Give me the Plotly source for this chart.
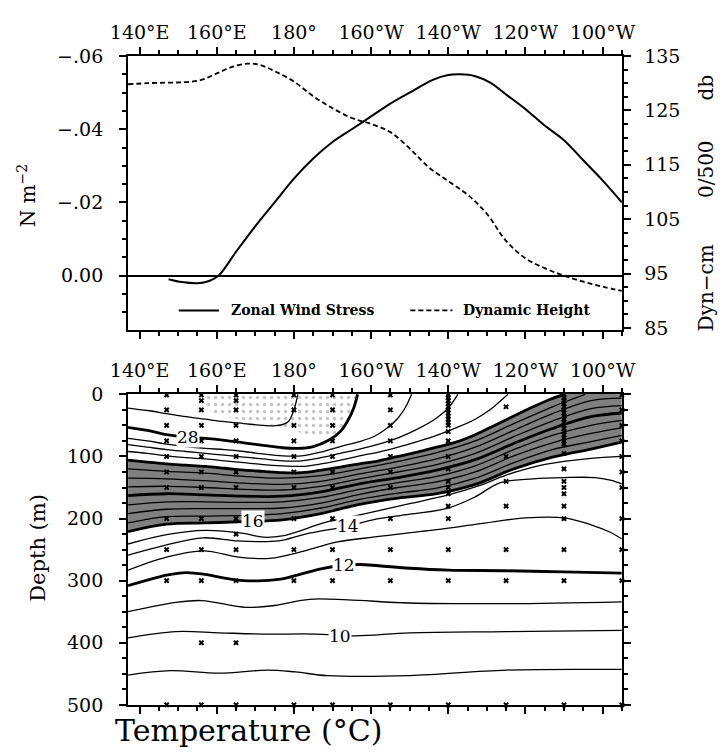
import plotly.graph_objects as go

# ---------------- top panel data ----------------
LON_TAU = [147.5, 151, 155, 158, 160.5, 165, 170, 175, 180, 185, 190, 195, 200, 205, 210,
           216, 220, 223, 227, 231, 235, 240, 245, 250, 255, 260, 265]
TAU = [0.001, 0.0018, 0.0021, 0.0015, 0.0, -0.0065, -0.0135, -0.020, -0.0265, -0.032, -0.0365,
       -0.040, -0.0435, -0.047, -0.050, -0.0535, -0.0548, -0.055, -0.0545, -0.0527, -0.0495,
       -0.0455, -0.041, -0.037, -0.0315, -0.026, -0.020]

LON_DH = [137, 142, 147, 152, 156, 160, 164, 168, 171, 175, 180, 185, 190, 195, 200, 205, 210,
          215, 220, 225, 230, 235, 240, 245, 250, 255, 260, 265]
DH = [129.8, 130.0, 130.1, 130.2, 130.6, 131.8, 133.0, 133.6, 133.4, 132.2, 130.3, 127.6, 125.4,
      123.6, 122.5, 121.0, 118.0, 114.5, 112.0, 109.5, 106.0, 101.0, 97.8, 96.0, 94.6, 93.5,
      92.6, 91.8]

LON_TICKS = [140, 160, 180, 200, 220, 240, 260]
LON_TEXT = ["140°E", "160°E", "180°", "160°W", "140°W", "120°W", "100°W"]
TAU_TICKS = [-0.06, -0.04, -0.02, 0.0]
TAU_TEXT = ["−.06", "−.04", "−.02", "0.00"]
DH_TICKS = [85, 95, 105, 115, 125, 135]
DEPTH_TICKS = [0, 100, 200, 300, 400, 500]

# ---------------- bottom panel data: isotherm depths (m) ----------------
LON_A = [137, 147, 157, 167, 177, 187, 197, 207, 217, 227, 237, 247, 257, 265]
ISO = {
    29: ([137, 142, 147, 152, 157, 162, 167, 172, 176, 178.5, 180, 181],
         [22, 26, 31, 36, 40, 44, 47, 50, 50, 44, 25, 0]),
    28: ([137, 142, 147, 152, 157, 162, 167, 172, 177, 181, 185, 189, 192, 194, 195.5, 196.5],
         [53, 58, 65, 69, 71, 74, 78, 82, 86, 87, 84, 74, 60, 42, 22, 0]),
    27: ([137, 142, 147, 152, 157, 162, 167, 172, 177, 182, 187, 192, 197, 201, 204, 207, 209, 210.5],
         [71, 75, 80, 84, 87, 89, 92, 96, 99, 99, 93, 84, 76, 67, 55, 38, 20, 0]),
    26: ([137, 142, 147, 152, 157, 162, 167, 172, 177, 182, 187, 192, 197, 202, 207, 212, 217, 220, 222.5],
         [81, 85, 89, 92, 95, 98, 101, 104, 107, 107, 102, 95, 88, 80, 70, 56, 38, 22, 0]),
    25: ([137, 142, 147, 152, 157, 162, 167, 172, 177, 182, 187, 192, 197, 202, 207, 212, 217, 222, 227,
          231, 234, 235.5],
         [92, 95, 99, 102, 104, 107, 110, 113, 115, 116, 112, 106, 99, 93, 85, 76, 66, 54, 40, 24, 8, 0]),
    24: ([137, 142, 147, 152, 157, 162, 167, 172, 177, 182, 187, 192, 197, 202, 207, 212, 217, 222, 227,
          232, 237, 242, 246, 250],
         [106, 109, 112, 114, 116, 119, 122, 124, 126, 126, 122, 117, 112, 107, 100, 93, 85, 77, 65,
          50, 35, 20, 9, 0]),
    23: ([137, 147, 157, 167, 177, 187, 197, 207, 217, 227, 237, 247, 252, 255.5],
         [120, 124, 127, 132, 135, 131, 120, 108, 94, 75, 47, 20, 8, 0]),
    22: (LON_A, [135, 136, 139, 143, 145, 140, 128, 117, 104, 85, 58, 31, 10, 6]),
    21: (LON_A, [149, 148, 150, 153, 154, 148, 136, 125, 113, 95, 68, 43, 23, 18]),
    20: (LON_A, [163, 160, 162, 164, 164, 157, 144, 134, 122, 105, 79, 55, 36, 30]),
    19: (LON_A, [178, 173, 173, 174, 173, 166, 153, 142, 132, 115, 89, 66, 50, 42]),
    18: (LON_A, [192, 185, 184, 184, 183, 175, 161, 150, 141, 125, 99, 78, 63, 54]),
    17: (LON_A, [207, 197, 196, 195, 192, 183, 169, 159, 151, 135, 110, 89, 76, 66]),
    16: (LON_A, [221, 209, 207, 205, 202, 192, 177, 167, 160, 145, 120, 101, 88, 77]),
    15: ([137, 147, 157, 167, 172, 177, 182, 187, 194, 200, 210, 220, 228, 235, 242, 250, 257, 265],
         [241, 226, 219, 224, 230, 228, 219, 208, 198, 190, 176, 162, 147, 130, 117, 108, 103, 100]),
    14: ([137, 146, 156.5, 165.5, 176, 183, 194, 200.5, 210, 220, 227, 233.5, 242, 250, 258, 262, 265],
         [259, 244, 231, 236, 236, 225, 212, 202, 193, 183, 165, 142, 136, 134, 134, 138, 144]),
    13: ([137, 147, 156.5, 165.6, 173.7, 182.8, 191, 200.5, 206, 214, 223, 233, 240, 250, 257, 262, 265],
         [283, 262, 252, 262, 264, 252, 238, 230, 226, 220, 213, 204, 199, 199, 210, 222, 233]),
    12: ([137, 142, 147, 152, 157, 162, 167, 172, 177, 182, 187, 192, 197, 202, 210, 220, 235, 250, 265],
         [308, 299, 291, 287, 290, 296, 300, 300, 297, 289, 281, 276, 274, 276, 280, 283, 284, 286, 288]),
    11: ([137, 149.4, 156, 167.6, 175, 184, 194, 210, 235, 265],
         [350, 335, 332, 343, 340, 330, 331, 336, 337, 334]),
    10: ([137, 149.4, 160.6, 172, 185.4, 196, 210, 235, 265],
         [392, 382, 384, 386, 386, 389, 384, 382, 380]),
    9: ([137, 148, 160.6, 173, 180.4, 188.7, 210, 235, 265],
        [452, 445, 449, 444, 447, 453, 453, 444, 443]),
}
THICK = [28, 24, 20, 16, 12]

# contour labels (temperature, lon, depth)
LABELS = [(28, 152.6, 69), (16, 169.3, 204), (14, 194, 212), (12, 193, 275), (10, 192, 389)]

# stippled near-surface warm-pool region
STIP_LON = [157, 160, 165, 170, 175, 180, 185, 190, 194, 196, 196, 157]
STIP_DEP = [22, 32, 40, 45, 50, 58, 70, 70, 45, 10, 0, 0]

# mooring sensor positions
MOORINGS = {
    147: [1, 25, 50, 75, 100, 125, 150, 200, 250, 300, 500],
    156: [1, 10, 25, 50, 75, 100, 125, 150, 200, 250, 300, 400, 500],
    165: [1, 10, 25, 50, 75, 100, 125, 150, 200, 225, 250, 300, 400, 500],
    180: [1, 25, 50, 75, 100, 125, 150, 200, 250, 300, 500],
    190: [1, 25, 50, 75, 100, 125, 150, 200, 250, 300, 500],
    205: [1, 25, 50, 75, 100, 125, 150, 200, 250, 300, 500],
    220: [1, 5, 10, 15, 20, 25, 30, 35, 40, 45, 50, 60, 75, 100, 120, 140, 150, 160, 180, 200,
          250, 300, 500],
    235: [20, 100, 140, 180, 250, 300, 500],
    250: [1, 5, 10, 15, 20, 25, 30, 35, 40, 45, 50, 55, 60, 65, 70, 75, 80, 95, 120, 140, 150,
          160, 180, 200, 250, 300, 500],
    265: [1, 25, 50, 75, 100, 125, 150, 200, 250, 300, 500],
}

W, H = 720, 756
def px(x):
    return x / W
def py(y):
    return 1 - y / H

SERIF = "DejaVu Serif"
PAD_R = "\u2002"
fig = go.Figure()

# ---- top panel ----
fig.add_trace(go.Scatter(x=LON_TAU, y=TAU, mode="lines", xaxis="x", yaxis="y",
                         line=dict(color="black", width=2, shape="spline"), showlegend=False))
fig.add_trace(go.Scatter(x=LON_DH, y=DH, mode="lines", xaxis="x", yaxis="y2",
                         line=dict(color="black", width=1.8, dash="5px,3px", shape="spline"),
                         showlegend=False))

# ---- bottom panel ----
fig.add_trace(go.Scatter(x=STIP_LON, y=STIP_DEP, mode="lines", fill="toself", xaxis="x3", yaxis="y3",
                         line=dict(width=0), fillcolor="rgba(0,0,0,0)",
                         fillpattern=dict(shape=".", fgcolor="#8a8a8a", bgcolor="rgba(0,0,0,0)",
                                          size=7, solidity=0.2),
                         showlegend=False, hoverinfo="skip"))
top_lon = ISO[24][0] + [265]
top_dep = ISO[24][1] + [0]
fig.add_trace(go.Scatter(x=top_lon, y=top_dep, mode="lines", xaxis="x3", yaxis="y3",
                         line=dict(width=0, shape="spline"), showlegend=False, hoverinfo="skip"))
fig.add_trace(go.Scatter(x=ISO[16][0], y=ISO[16][1], mode="lines", xaxis="x3", yaxis="y3",
                         fill="tonexty", fillcolor="#808080",
                         line=dict(width=0, shape="spline"), showlegend=False, hoverinfo="skip"))

for t, (lo, de) in ISO.items():
    fig.add_trace(go.Scatter(x=lo, y=de, mode="lines", xaxis="x3", yaxis="y3",
                             line=dict(color="black", width=2.8 if t in THICK else 1.3, shape="spline"),
                             showlegend=False, name=f"{t}°C"))

mx, my = [], []
for lon, deps in MOORINGS.items():
    for d in deps:
        mx.append(lon)
        my.append(d)
fig.add_trace(go.Scatter(x=mx, y=my, mode="markers", xaxis="x3", yaxis="y3", cliponaxis=False,
                         marker=dict(symbol="x", size=5, color="black"), showlegend=False))

tickfont = dict(family=SERIF, size=19, color="black")
xcommon = dict(range=[137, 265], tickmode="array", tickvals=LON_TICKS, ticktext=LON_TEXT,
               side="top", ticks="outside", ticklen=7, tickwidth=1.5, tickcolor="black",
               showline=True, linewidth=2, linecolor="black", mirror="ticks", showgrid=False,
               zeroline=False, tickfont=tickfont,
               minor=dict(tickmode="linear", tick0=0, dtick=5, ticks="outside", ticklen=4,
                          tickwidth=1.5, tickcolor="black", showgrid=False))

dom_x = [px(115), px(631)]
fig.update_layout(
    width=W, height=H, margin=dict(l=0, r=0, t=0, b=0),
    paper_bgcolor="white", plot_bgcolor="white",
    xaxis=dict(domain=dom_x, anchor="y", **xcommon),
    yaxis=dict(domain=[py(328), py(46)], anchor="x", range=[0.01487, -0.0601],
               tickmode="array", tickvals=TAU_TICKS, ticktext=TAU_TEXT,
               ticks="outside", ticklen=7, tickwidth=1.5, tickcolor="black",
               showline=True, linewidth=2, linecolor="black", showgrid=False,
               zeroline=True, zerolinecolor="black", zerolinewidth=1.5,
               tickfont=tickfont, ticklabelstandoff=12,
               minor=dict(tickmode="linear", tick0=0, dtick=0.005, ticks="outside", ticklen=4,
                          tickwidth=1.5, tickcolor="black", showgrid=False)),
    yaxis2=dict(overlaying="y", anchor="x", side="right", range=[84.64, 135.05],
                tickmode="array", tickvals=DH_TICKS, ticktext=[PAD_R + str(v) for v in DH_TICKS],
                ticks="outside", ticklen=7, tickwidth=1.5, tickcolor="black",
                showline=True, linewidth=2, linecolor="black", showgrid=False, zeroline=False,
                tickfont=tickfont,
                minor=dict(tickmode="linear", tick0=0, dtick=2.5, ticks="outside", ticklen=4,
                           tickwidth=1.5, tickcolor="black", showgrid=False)),
    xaxis3=dict(domain=dom_x, anchor="y3", **xcommon),
    yaxis3=dict(domain=[py(714), py(394)], anchor="x3", range=[500.5, -0.5],
                tickmode="array", tickvals=DEPTH_TICKS, ticktext=[str(v) for v in DEPTH_TICKS],
                ticks="outside", ticklen=7, tickwidth=1.5, tickcolor="black",
                showline=True, linewidth=2, linecolor="black", mirror="ticks", showgrid=False,
                zeroline=False, tickfont=tickfont, ticklabelstandoff=12,
                minor=dict(tickmode="linear", tick0=0, dtick=25, ticks="outside", ticklen=4,
                           tickwidth=1.5, tickcolor="black", showgrid=False)),
)

ann = []
# axis titles
ann.append(dict(text="N m<sup>−2</sup>", x=px(9), y=py(190), xref="paper", yref="paper",
                xanchor="center", yanchor="middle",
                textangle=-90, showarrow=False, font=dict(family=SERIF, size=20, color="black")))
ann.append(dict(text="Dyn−cm\u2003\u2003 0/500\u2003\u2003db",
                x=px(719), y=py(198), xref="paper", yref="paper",
                xanchor="center", yanchor="middle",
                textangle=-90, showarrow=False, font=dict(family=SERIF, size=20, color="black")))
ann.append(dict(text="Depth (m)", x=px(21), y=py(552), xref="paper", yref="paper",
                xanchor="center", yanchor="middle",
                textangle=-90, showarrow=False, font=dict(family=SERIF, size=21, color="black")))
ann.append(dict(text="Temperature (°C)", x=px(99), y=py(740), xref="paper", yref="paper",
                xanchor="left", yanchor="middle", showarrow=False,
                font=dict(family=SERIF, size=30, color="black")))
# legend text
ann.append(dict(text="<b>Zonal Wind Stress</b>", x=px(220), y=py(308), xref="paper", yref="paper",
                xanchor="left", yanchor="middle", showarrow=False,
                font=dict(family=SERIF, size=14, color="black")))
ann.append(dict(text="<b>Dynamic Height</b>", x=px(463), y=py(308), xref="paper", yref="paper",
                xanchor="left", yanchor="middle", showarrow=False,
                font=dict(family=SERIF, size=14, color="black")))
# contour labels
for t, lo, de in LABELS:
    ann.append(dict(text=str(t), x=lo, y=de, xref="x3", yref="y3", showarrow=False,
                    bgcolor="white", borderpad=0,
                    font=dict(family=SERIF, size=17, color="black")))
fig.update_layout(annotations=ann)

shapes = [
    dict(type="line", xref="paper", yref="paper", x0=px(168), x1=px(210), y0=py(308), y1=py(308),
         line=dict(color="black", width=2)),
    dict(type="line", xref="paper", yref="paper", x0=px(410), x1=px(454), y0=py(308), y1=py(308),
         line=dict(color="black", width=1.8, dash="5px,3px")),
]
fig.update_layout(shapes=shapes)

fig.write_html("out.html")
